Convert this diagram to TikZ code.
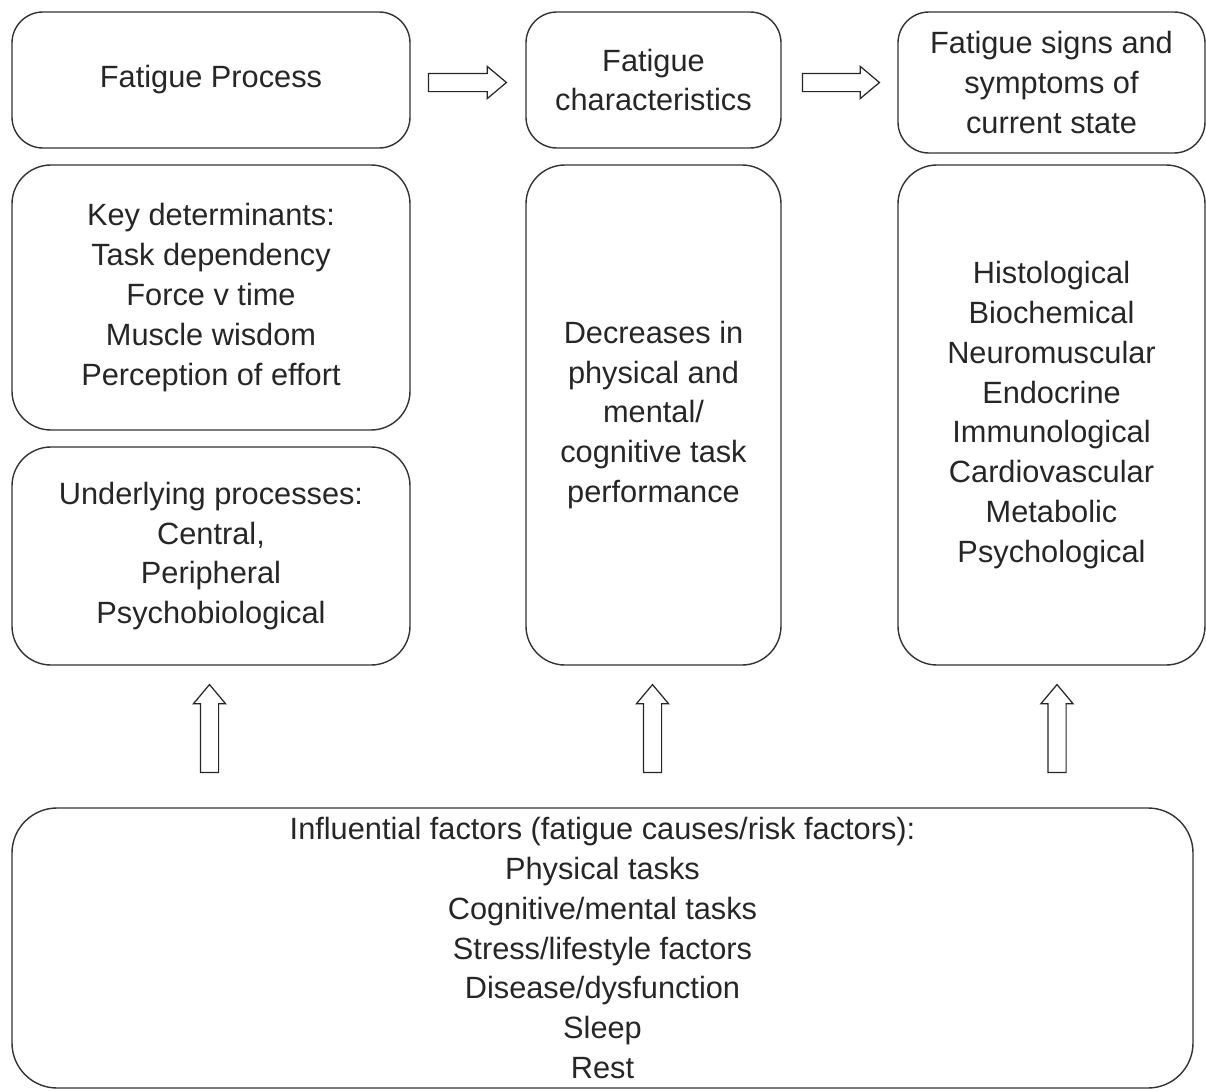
\documentclass[tikz,border=0pt]{standalone}
\usepackage{fontspec}
\setmainfont{Liberation Sans}
\usetikzlibrary{shapes.arrows}

\begin{document}
\begin{tikzpicture}[
        box/.style={draw=black!80,line width=0.8pt,rounded corners=0.62cm,align=center,%box outline and centred text
                text=black!85,inner sep=0pt,font=\fontsize{17.5}{22.7}\selectfont},
        bigbox/.style={box,rounded corners=0.78cm},%larger corners for the tall boxes
        blockarrow/.style={draw=black!85,line width=0.7pt,single arrow,single arrow head extend=0.14cm,
                single arrow tip angle=80,inner sep=0.17cm,minimum height=#1},
        ]
\useasboundingbox (0,0) rectangle (24.12,-21.82);
% top row
\node[box,minimum width=7.96cm,minimum height=2.72cm] (process) at (4.22,-1.60) {Fatigue Process};
\node[box,minimum width=5.10cm,minimum height=2.72cm] (chars) at (13.07,-1.60) {Fatigue\\characteristics};
\node[box,minimum width=6.14cm,minimum height=2.82cm] (signs) at (21.03,-1.65) {Fatigue signs and\\symptoms of\\current state};
% middle row
\node[bigbox,minimum width=7.96cm,minimum height=5.30cm] (determinants) at (4.22,-5.95)
        {Key determinants:\\Task dependency\\Force v time\\Muscle wisdom\\Perception of effort};
\node[bigbox,minimum width=7.96cm,minimum height=4.36cm] (processes) at (4.22,-11.12)
        {Underlying processes:\\Central,\\Peripheral\\Psychobiological};
\node[bigbox,minimum width=5.10cm,minimum height=10.00cm] (decreases) at (13.07,-8.30)
        {Decreases in\\physical and\\mental/\\cognitive task\\performance};
\node[bigbox,minimum width=6.14cm,minimum height=10.00cm] (systems) at (21.03,-8.30)
        {Histological\\Biochemical\\Neuromuscular\\Endocrine\\Immunological\\Cardiovascular\\Metabolic\\Psychological};
% bottom
\node[bigbox,rounded corners=0.9cm,minimum width=23.62cm,minimum height=5.60cm] (factors) at (12.05,-18.96)
        {Influential factors (fatigue causes/risk factors):\\Physical tasks\\Cognitive/mental tasks\\Stress/lifestyle factors\\Disease/dysfunction\\Sleep\\Rest};
% block arrows
\node[blockarrow=1.56cm] (toChars) at (9.24,-1.65) {};
\node[blockarrow=1.54cm] (toSigns) at (16.71,-1.65) {};
\node[blockarrow=1.76cm,shape border rotate=90] (upLeft) at (4.19,-14.68) {};
\node[blockarrow=1.76cm,shape border rotate=90] (upMid) at (13.05,-14.68) {};
\node[blockarrow=1.76cm,shape border rotate=90] (upRight) at (21.14,-14.68) {};
\end{tikzpicture}
\end{document}
